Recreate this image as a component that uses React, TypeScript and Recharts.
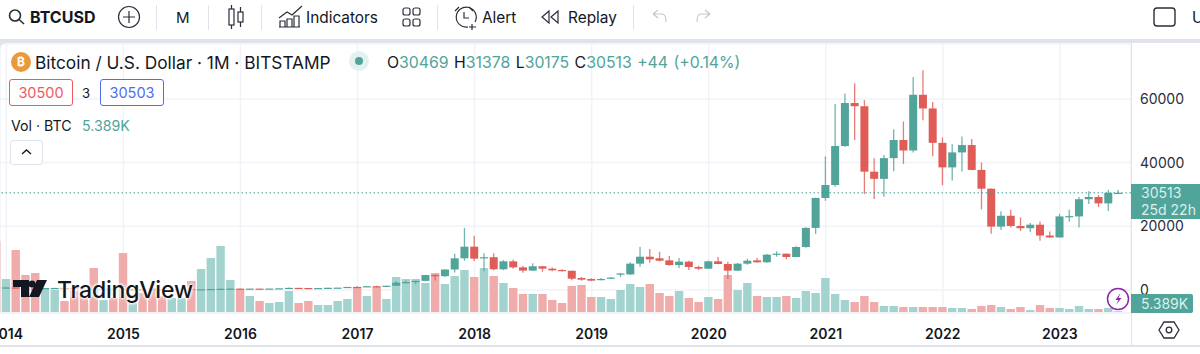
import { Bar, CartesianGrid, ComposedChart, ReferenceLine, XAxis, YAxis } from "recharts";

const UP = "#50a49a";
const DOWN = "#e05d57";
const UP_VOL = "#a3d3ce";
const DOWN_VOL = "#efacaa";
const GRID = "#f1f3f8";
const BORDER = "#e0e3eb";
const TEXT = "#131722";

const FONT = "Inter, sans-serif";

// monthly candles, Dec 2013 to Jul 2023
const startYear = 2013;
const startMonth = 12;

const opens = [
  955,
  730, 800, 550, 445, 440, 630, 640, 585, 480, 385, 338, 378,
  320, 217, 254, 244, 236, 230, 263, 284, 230, 236, 314, 377,
  430, 368, 437, 416, 448, 531, 672, 624, 575, 609, 701, 745,
  966, 960, 1190, 1080, 1350, 2300, 2480, 2870, 4700, 4340, 6440, 9950,
  13600, 10100, 10300, 6500, 9000, 7100, 6100, 7450, 6700, 6280, 6050, 3760,
  3450, 3140, 3760, 4900, 4900, 8270, 10450, 9950, 9300, 7850, 8900, 7220,
  6700, 9000, 8160, 6070, 8270, 9300, 8700, 11100, 11400, 10360, 13500, 19500,
  28900, 32970, 45200, 58700, 57700, 37150, 34900, 41400, 47100, 43800, 61300, 57000,
  46200, 38500, 43200, 45500, 37700, 31800, 19900, 23300, 20100, 19400, 20500, 17100,
  16500, 23100, 23100, 28500, 29200, 27200, 30469,
];
const highs = [
  1163,
  1000, 830, 710, 545, 630, 680, 660, 600, 490, 415, 450, 380,
  320, 265, 300, 260, 247, 268, 318, 285, 250, 335, 500, 467,
  463, 448, 440, 470, 550, 780, 680, 625, 610, 738, 755, 980,
  1150, 1205, 1350, 1350, 2760, 3000, 2920, 4750, 4980, 6470, 11390, 19500,
  17050, 11500, 11500, 9400, 9600, 7500, 8400, 7530, 7100, 6500, 6050, 4080,
  3660, 3800, 4100, 5300, 8690, 13600, 12870, 12000, 10670, 10050, 9200, 7640,
  9300, 10360, 8900, 8480, 9840, 10050, 11300, 12150, 11500, 13700, 19700, 29000,
  41950, 58400, 61700, 64900, 59600, 41400, 42400, 50500, 52900, 66900, 69000, 59000,
  47900, 45800, 48200, 47400, 40000, 31900, 24700, 25200, 22800, 21000, 21500, 18400,
  23900, 25200, 29200, 31000, 29800, 31400, 31378,
];
const lows = [
  450,
  730, 400, 440, 340, 430, 550, 565, 430, 365, 275, 320, 310,
  152, 212, 235, 214, 228, 218, 253, 198, 225, 235, 310, 343,
  350, 365, 395, 415, 440, 530, 470, 465, 570, 600, 690, 735,
  750, 910, 890, 1060, 1350, 2100, 1830, 2700, 2970, 4100, 5500, 9200,
  9100, 5870, 6200, 6250, 6700, 5450, 5950, 5750, 5850, 5800, 3100, 2930,
  2830, 3100, 3700, 4050, 4700, 7330, 8580, 9000, 7640, 6900, 6280, 6280,
  6600, 8060, 3450, 5970, 7950, 8580, 8580, 10460, 9630, 10360, 13300, 17600,
  28000, 32400, 44900, 47100, 30100, 28600, 29300, 37300, 39600, 43200, 53300, 42000,
  32900, 34400, 37200, 37600, 25300, 17700, 18800, 19600, 18500, 18200, 15500, 16300,
  16500, 21400, 19600, 27000, 26000, 24800, 30175,
];
const closes = [
  730,
  800, 550, 445, 440, 630, 640, 585, 480, 385, 338, 378, 320,
  217, 254, 244, 236, 230, 263, 284, 230, 236, 314, 377, 430,
  368, 437, 416, 448, 531, 672, 624, 575, 609, 701, 745, 966,
  960, 1190, 1080, 1350, 2300, 2480, 2870, 4700, 4340, 6440, 9950, 13600,
  9850, 10300, 6500, 9000, 7100, 6100, 7450, 6700, 6180, 5950, 3550, 3240,
  2930, 3450, 3900, 5200, 8270, 10450, 9630, 9200, 7850, 8900, 7220, 6700,
  9000, 8160, 6070, 8270, 9200, 8700, 11100, 11400, 10360, 13500, 19500, 28900,
  32970, 45200, 58700, 57700, 37150, 34900, 41400, 47100, 43800, 61300, 57000, 46200,
  38500, 43200, 45500, 37700, 31800, 19900, 23300, 20100, 19400, 20500, 17100, 16500,
  23100, 23200, 28500, 29200, 27200, 30500, 30513,
];
// thousand BTC
const volumes = [
  216,
  102, 189, 114, 120, 75, 69, 36, 66, 54, 135, 39, 45,
  180, 30, 60, 75, 51, 45, 45, 96, 132, 165, 201, 99,
  72, 51, 36, 30, 33, 66, 30, 36, 24, 24, 36, 42,
  78, 51, 78, 42, 108, 102, 102, 90, 120, 87, 111, 129,
  108, 135, 111, 90, 75, 57, 57, 57, 39, 30, 81, 84,
  48, 48, 42, 69, 87, 78, 87, 60, 51, 66, 45, 33,
  48, 42, 114, 69, 90, 51, 48, 48, 51, 45, 66, 60,
  105, 57, 39, 33, 51, 33, 21, 21, 18, 18, 18, 18,
  18, 15, 15, 12, 21, 24, 18, 12, 18, 9, 24, 15,
  15, 12, 21, 12, 12, 15, 5.389,
];
const yearLabels = [2014, 2015, 2016, 2017, 2018, 2019, 2020, 2021, 2022, 2023];
const priceTicks = [0, 20000, 40000, 60000];
const lastClose = 30513;

// month 0 is Jan 2014, so the year ticks land on multiples of 12
const data = closes.map((close, i) => ({
  month: (startYear - 2014) * 12 + startMonth - 1 + i,
  open: opens[i],
  high: highs[i],
  low: lows[i],
  close,
  volume: volumes[i],
}));
const yearTicks = yearLabels.map((y) => (y - 2014) * 12);

const SLOT = 9; // both bar series share one slot, the shapes draw narrower inside it
const BODY_W = 8;

function Candle(props: any) {
  const { x, y, width, height, payload } = props;
  const up = payload.close >= payload.open;
  const color = up ? UP : DOWN;
  const h = Math.abs(height);
  const perUnit = h / (payload.high - payload.low);
  const bodyTop = y + (payload.high - Math.max(payload.open, payload.close)) * perUnit;
  const bodyH = Math.max(1.2, Math.abs(payload.close - payload.open) * perUnit);
  const cx = x + width / 2;
  return (
    <g>
      <line x1={cx} x2={cx} y1={y} y2={y + h} stroke={color} strokeWidth={1.3} opacity={0.8} />
      <rect x={cx - BODY_W / 2} y={bodyTop} width={BODY_W} height={bodyH} fill={color} />
    </g>
  );
}

function VolumeBar(props: any) {
  const { x, y, width, height, payload } = props;
  return (
    <rect
      x={x + width / 2 - 4.2}
      y={y}
      width={8.4}
      height={height}
      fill={payload.close >= payload.open ? UP_VOL : DOWN_VOL}
    />
  );
}

function Txt({ x, y, size = 14, color = TEXT, weight = 400, children, style }: any) {
  return (
    <div style={{ position: "absolute", left: x, top: y, fontSize: size, lineHeight: "20px", color, fontWeight: weight, whiteSpace: "nowrap", fontFamily: FONT, ...style }}>
      {children}
    </div>
  );
}

function Sep({ x }: { x: number }) {
  return <div style={{ position: "absolute", left: x, top: 5, width: 1, height: 25, background: BORDER }} />;
}

function ToolbarIcons() {
  const s = { fill: "none", stroke: "#2a2e39", strokeWidth: 1.2 };
  return (
    <svg width={1200} height={38} style={{ position: "absolute", left: 0, top: 0 }}>
      {/* search */}
      <circle cx={15} cy={15.5} r={5.5} {...s} strokeWidth={1.6} />
      <line x1={19} y1={19.5} x2={24} y2={24} {...s} strokeWidth={1.6} />
      {/* add symbol */}
      <circle cx={129} cy={17} r={10.5} {...s} />
      <path d="M129 11v12M123 17h12" {...s} />
      {/* candles */}
      <rect x={229} y={9} width={5} height={16} {...s} />
      <path d="M231.5 5v4M231.5 25v4" {...s} />
      <rect x={238} y={12} width={5} height={10} {...s} />
      <path d="M240.5 7v5M240.5 22v5" {...s} />
      {/* indicators */}
      <path d="M279 18l8-6 5 3 10-9" {...s} />
      <path d="M280 27v-6h5v6M287 27v-8h5v8M294 27v-11h5v11M279 27h21" {...s} />
      {/* layouts */}
      <rect x={403} y={8} width={7} height={7} rx={2} {...s} />
      <rect x={413} y={8} width={7} height={7} rx={2} {...s} />
      <rect x={403} y={19} width={7} height={7} rx={2} {...s} />
      <rect x={413} y={19} width={7} height={7} rx={2} {...s} />
      {/* alert */}
      <path d="M468 27a10 10 0 1 1 7-5" {...s} />
      <path d="M464 12v6h5M455 11l4-4M469 7l4 4M472 24v6M469 27h7" {...s} />
      {/* replay */}
      <path d="M549 11l-7 6 7 6zM558 11l-7 6 7 6z" {...s} />
      <path d="M653 14l5-4M653 14l5 4M653 14h9c3 0 4 3 4 8" fill="none" stroke="#c4c7ce" strokeWidth={1.2} />
      <path d="M710 14l-5-4M710 14l-5 4M710 14h-9c-3 0-4 3-4 8" fill="none" stroke="#c4c7ce" strokeWidth={1.2} />
      {/* fullscreen */}
      <rect x={1154} y={8} width={21} height={18} rx={3} {...s} strokeWidth={1.4} />
    </svg>
  );
}

function Legend() {
  const box = (x: number, color: string, label: string) => (
    <div style={{ position: "absolute", left: x, top: 79, width: 62, height: 25, border: `1px solid ${color}`, borderRadius: 3, color, fontSize: 14.5, lineHeight: "25px", textAlign: "center", fontFamily: FONT, background: "#fff" }}>
      {label}
    </div>
  );
  const G = ({ children }: any) => <span style={{ color: UP }}>{children}</span>;
  return (
    <>
      <div style={{ position: "absolute", left: 11, top: 52, width: 20, height: 20, borderRadius: 10, background: "#ea9a3e", color: "#fff", fontSize: 12, fontWeight: 700, lineHeight: "20px", textAlign: "center", fontFamily: FONT }}>
        ₿
      </div>
      <Txt x={35} y={53} size={17.3}>Bitcoin / U.S. Dollar · 1M · BITSTAMP</Txt>
      <div style={{ position: "absolute", left: 349, top: 51, width: 20, height: 20, borderRadius: 10, background: "#e3f1ef" }} />
      <div style={{ position: "absolute", left: 355, top: 57, width: 8, height: 8, borderRadius: 4, background: UP }} />
      <Txt x={387} y={53} size={15.8} style={{ wordSpacing: 1 }}>
        O<G>30469</G> H<G>31378</G> L<G>30175</G> C<G>30513</G> <G>+44 (+0.14%)</G>
      </Txt>
      {box(9, "#ef5a5f", "30500")}
      <Txt x={82} y={83} size={13}>3</Txt>
      {box(100, "#4d6ff0", "30503")}
      <Txt x={11} y={116} size={14.2}>Vol · BTC</Txt>
      <Txt x={82} y={116} size={14.2} color={UP}>5.389K</Txt>
      <div style={{ position: "absolute", left: 10, top: 140, width: 31, height: 23, border: `1px solid ${BORDER}`, borderRadius: 3, background: "#fff" }}>
        <svg width={31} height={23}><path d="M11 13l4.500-4 4.500 4" fill="none" stroke={TEXT} strokeWidth={1.4} /></svg>
      </div>
    </>
  );
}

function Logo() {
  return (
    <>
      <svg width={36} height={20} style={{ position: "absolute", left: 13, top: 279 }}>
        <path d="M0 1h16v17H8V8H0z" fill={TEXT} />
        <circle cx={19} cy={5} r={3.6} fill={TEXT} />
        <path d="M24 1h10l-8 17H16z" fill={TEXT} />
      </svg>
      <div style={{ position: "absolute", left: 57, top: 275, fontFamily: FONT, fontSize: 23, fontWeight: 500, lineHeight: "30px", color: TEXT, letterSpacing: -0.2, textShadow: "0 0 3px #fff, 0 0 3px #fff, 0 0 3px #fff, 0 0 4px #fff" }}>
        TradingView
      </div>
    </>
  );
}

function PriceTags() {
  return (
    <>
      <div style={{ position: "absolute", left: 1131, top: 184, width: 69, height: 35, background: UP, color: "#dcefec", fontFamily: FONT, fontSize: 14, lineHeight: "17px", paddingLeft: 10, boxSizing: "border-box" }}>
        <div>{lastClose}</div>
        <div>25d 22h</div>
      </div>
      <div style={{ position: "absolute", left: 1131, top: 294, width: 62, height: 19, background: UP, color: "#dcefec", fontFamily: FONT, fontSize: 14, lineHeight: "19px", paddingLeft: 10, boxSizing: "border-box", borderRadius: "0 2px 2px 0" }}>
        5.389K
      </div>
      <svg width={24} height={24} style={{ position: "absolute", left: 1106, top: 287 }}>
        <circle cx={12} cy={12} r={10.5} fill="#fff" stroke="#8e24aa" strokeWidth={1.5} />
        <path d="M14.500 6l-5 7h3l-2.500 5 5.500-7h-3z" fill="#8e24aa" />
      </svg>
      <svg width={24} height={24} style={{ position: "absolute", left: 1157, top: 318 }}>
        <path d="M7 4h10l5 8-5 8H7l-5-8z" fill="none" stroke="#2a2e39" strokeWidth={1.3} />
        <circle cx={12} cy={12} r={2.8} fill="none" stroke="#2a2e39" strokeWidth={1.3} />
      </svg>
    </>
  );
}

export default function App() {
  return (
    <div style={{ position: "absolute", left: 0, top: 0, width: 1200, height: 354, overflow: "hidden", background: "#fff", fontFamily: FONT }}>
      <ComposedChart
        width={1200}
        height={354}
        data={data}
        margin={{ top: 44, right: 0, bottom: 0, left: 0 }}
        barGap={-SLOT}
        style={{ position: "absolute", left: 0, top: 0 }}
      >
        <CartesianGrid stroke={GRID} strokeWidth={1.5} yAxisId="price" />
        <XAxis
          dataKey="month"
          type="number"
          domain={[-0.65, 115.29]}
          allowDataOverflow
          ticks={yearTicks}
          interval={0}
          tickFormatter={(m: number) => String(2014 + m / 12)}
          tick={{ fill: TEXT, fontSize: 14, fontWeight: 600, fontFamily: FONT }}
          tickLine={false}
          tickMargin={10}
          height={41}
          axisLine={{ stroke: GRID, strokeWidth: 2 }}
        />
        <YAxis
          yAxisId="price"
          orientation="right"
          domain={[-7221, 77237]}
          allowDataOverflow
          ticks={priceTicks}
          interval={0}
          width={69}
          tick={{ fill: "#2a2e39", fontSize: 14, fontFamily: FONT }}
          tickLine={false}
          tickMargin={3}
          axisLine={false}
        />
        <YAxis yAxisId="volume" hide domain={[0, 807]} allowDataOverflow />
        <Bar yAxisId="volume" dataKey="volume" barSize={SLOT} shape={VolumeBar} isAnimationActive={false} />
        <Bar yAxisId="price" dataKey={(d: any) => [d.low, d.high]} barSize={SLOT} shape={Candle} isAnimationActive={false} />
        <ReferenceLine yAxisId="price" y={lastClose} stroke="#3f9a8f" strokeDasharray="1.5 2.5" />
      </ComposedChart>

      {/* chart chrome */}
      <div style={{ position: "absolute", left: 1131, top: 43, width: 1, height: 302, background: BORDER }} />
      <div style={{ position: "absolute", left: 0, top: 345, width: 1200, height: 1.5, background: BORDER }} />
      <div style={{ position: "absolute", left: 0, top: 0, width: 1200, height: 38.5, background: "#fff" }} />
      <div style={{ position: "absolute", left: 0, top: 38.5, width: 1200, height: 4.5, background: BORDER }} />
      <svg width={6} height={6} style={{ position: "absolute", left: 0, top: 43 }}>
        <path d="M0 0h6a6 6 0 0 0-6 6z" fill={BORDER} />
      </svg>

      <ToolbarIcons />
      <Txt x={30} y={7} size={16} weight={700}>BTCUSD</Txt>
      <Sep x={156} />
      <Txt x={176} y={8} size={15}>M</Txt>
      <Sep x={208} />
      <Sep x={261} />
      <Txt x={306} y={8} size={15.4}>Indicators</Txt>
      <Sep x={437} />
      <Txt x={482} y={8} size={15.4}>Alert</Txt>
      <Txt x={568} y={8} size={15.4}>Replay</Txt>
      <Sep x={633} />
      <Txt x={1192} y={8} size={15.4}>U</Txt>

      <Legend />
      <Logo />
      <PriceTags />
    </div>
  );
}
